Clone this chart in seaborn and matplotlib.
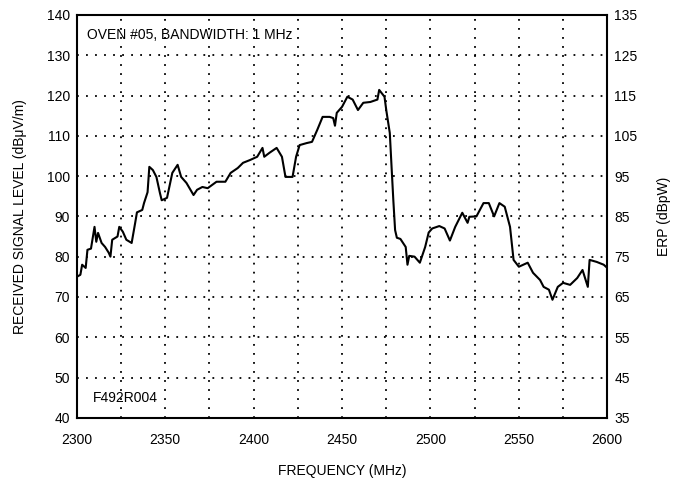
import matplotlib
matplotlib.use("Agg")
import matplotlib.pyplot as plt
import seaborn as sns
import pandas as pd

freq = [2300, 2302, 2303, 2305, 2306, 2308, 2310, 2311, 2312, 2314, 2316, 2318, 2319, 2320,
        2323, 2324, 2326, 2328, 2331, 2333, 2334, 2337, 2338, 2340, 2341, 2343, 2345, 2347,
        2348, 2351, 2354, 2357, 2359, 2362, 2366, 2368, 2371, 2374, 2379, 2384, 2387, 2391,
        2394, 2398, 2402, 2405, 2406, 2409, 2413, 2416, 2418, 2422, 2424, 2426, 2430, 2433,
        2436, 2439, 2443, 2445, 2446, 2447, 2450, 2453, 2456, 2459, 2462, 2466, 2470, 2471,
        2474, 2475, 2477, 2478, 2479, 2480, 2481, 2483, 2486, 2487, 2488, 2491, 2494, 2497,
        2499, 2501, 2505, 2508, 2511, 2514, 2518, 2521, 2522, 2526, 2530, 2533, 2536, 2539,
        2542, 2545, 2547, 2550, 2555, 2558, 2562, 2564, 2567, 2569, 2572, 2575, 2579, 2583,
        2586, 2589, 2590, 2594, 2598, 2600]
level = [75, 75.5, 78, 77.2, 81.7, 82, 87.4, 83.7, 85.9, 83.4, 82.4, 81, 80, 84.2,
         85, 87.4, 86.2, 84.2, 83.4, 88.4, 91, 91.6, 93.3, 96, 102.3, 101.5, 99.8, 95.8,
         94, 94.6, 100.8, 102.8, 99.8, 98.3, 95.3, 96.6, 97.3, 97, 98.6, 98.6, 100.8, 102,
         103.3, 104, 104.8, 107, 104.8, 105.8, 107, 104.8, 99.8, 99.8, 104.8, 107.7, 108.2, 108.5,
         111.5, 114.7, 114.7, 114.4, 112.5, 115.7, 117.2, 119.7, 119, 116.4, 118.2, 118.4, 119, 121.4,
         119.7, 116.4, 110.7, 102.3, 94, 86.6, 84.7, 84.4, 82.4, 78, 80.2, 80, 78.5, 82.4,
         86, 87, 87.6, 87, 84, 87.4, 90.9, 88.4, 89.9, 90, 93.3, 93.3, 90, 93.3,
         92.4, 87.4, 79.2, 77.5, 78.5, 76, 74.2, 72.5, 71.8, 69.3, 72.5, 73.5, 73, 74.7,
         76.7, 72.5, 79.2, 78.7, 78, 77.2]

x_ticks = [2300, 2350, 2400, 2450, 2500, 2550, 2600]
x_grid = [2325, 2375, 2425, 2475, 2525, 2575]
left_ticks = [40, 50, 60, 70, 80, 90, 100, 110, 120, 130, 140]
right_ticks = [35, 45, 55, 65, 75, 85, 95, 105, 115, 125, 135]

sns.set_theme(style="white")
plt.rcParams['font.family'] = ['Liberation Sans', 'DejaVu Sans']

df = pd.DataFrame({"freq": freq, "level": level})

fig = plt.figure(figsize=(6.74, 4.83), dpi=100)
ax = fig.add_axes([0.114, 0.135, 0.787, 0.834])
sns.lineplot(data=df, x="freq", y="level", ax=ax, color="black", linewidth=1.5)

ax.set_xlim(2300, 2600)
ax.set_ylim(40, 140)
ax.set_xticks(x_ticks)
ax.set_xticks(x_grid, minor=True)
ax.set_yticks(left_ticks)
ax.grid(True, which="both", axis="x", color="black", linestyle=(0, (1, 4)), linewidth=1.3)
ax.grid(True, which="major", axis="y", color="black", linestyle=(0, (1, 4)), linewidth=1.3)
ax.tick_params(axis="both", which="both", length=0, labelsize=10, colors="black")
ax.tick_params(axis="x", pad=11)
ax.tick_params(axis="y", pad=5)
for s in ax.spines.values():
    s.set_color("black")
    s.set_linewidth(1.5)

ax.set_xlabel("FREQUENCY (MHz)", fontsize=10, color="black", labelpad=12)
ax.set_ylabel("RECEIVED SIGNAL LEVEL (dBμV/m)", fontsize=10, color="black", labelpad=14)

ax2 = ax.twinx()
ax2.set_ylim(35, 135)
ax2.set_yticks(right_ticks)
ax2.tick_params(axis="y", length=0, labelsize=10, colors="black", pad=5)
ax2.grid(False)
for s in ax2.spines.values():
    s.set_visible(False)
ax2.set_ylabel("ERP (dBpW)", fontsize=10, color="black", labelpad=14)

ax.text(0.02, 0.95, "OVEN #05, BANDWIDTH: 1 MHz", transform=ax.transAxes, fontsize=10,
        ha="left", va="center", color="black")
ax.text(0.03, 0.05, "F492R004", transform=ax.transAxes, fontsize=10,
        ha="left", va="center", color="black")

fig.savefig("out.png", dpi=100)
